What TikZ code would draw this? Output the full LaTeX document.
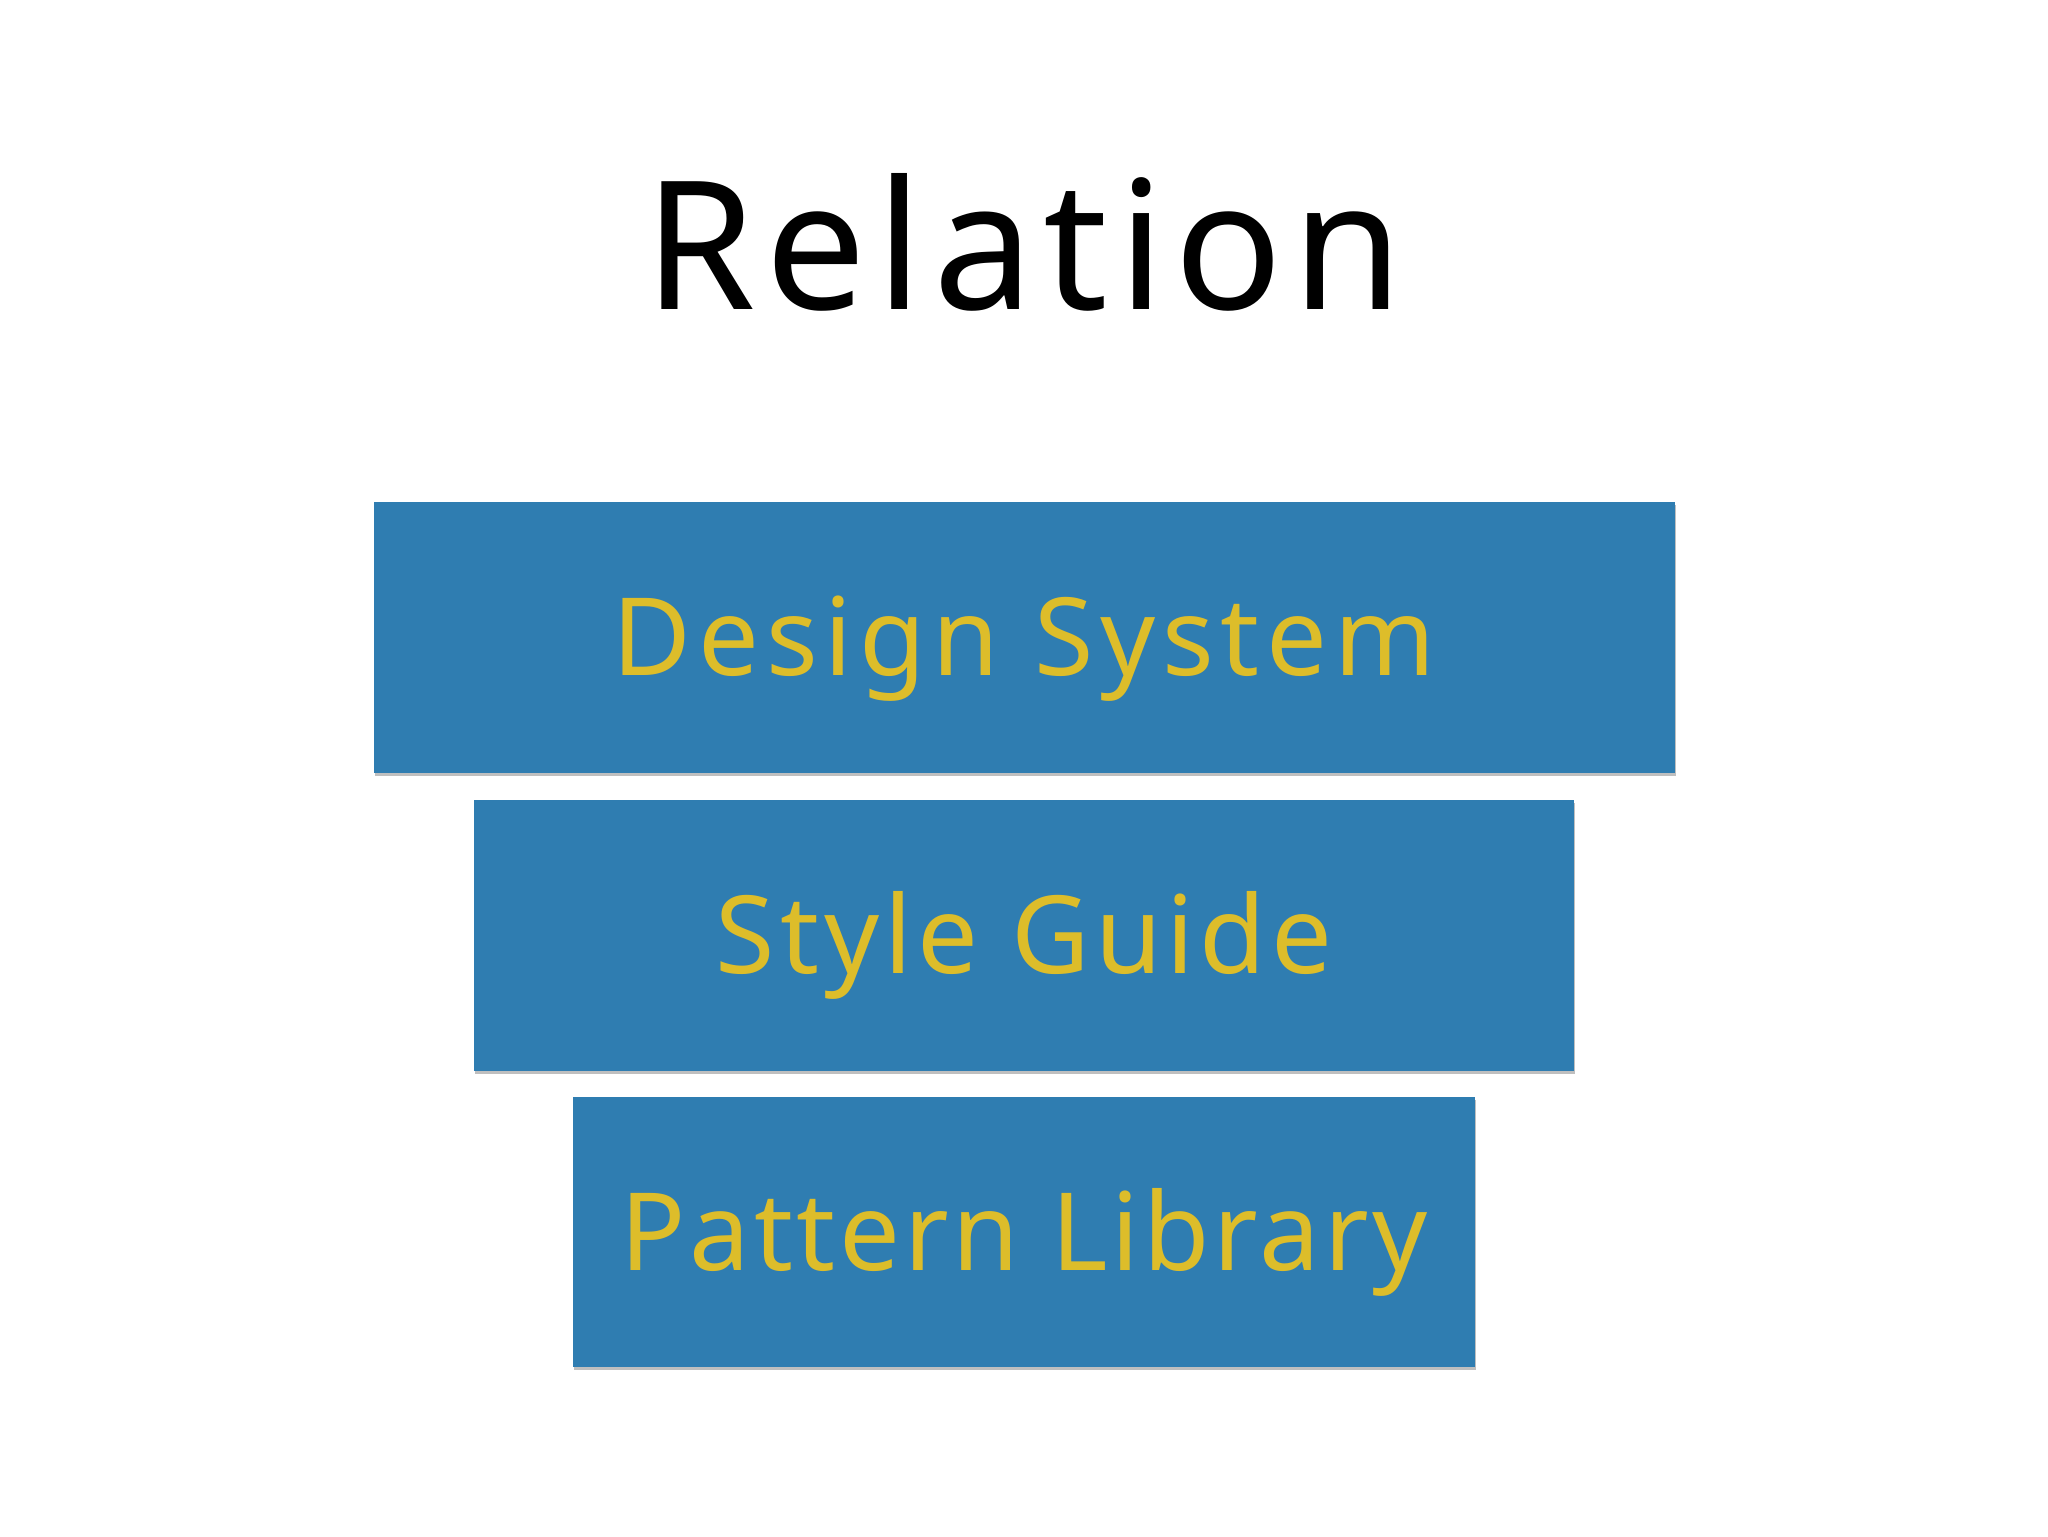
\documentclass[tikz,border=0pt]{standalone}
\usepackage{fontspec}
\setmainfont{Noto Sans}
\newfontfamily\titlefont[LetterSpace=5.6]{Noto Sans}
\newfontfamily\boxfontA[LetterSpace=6.3]{Noto Sans}
\newfontfamily\boxfontB[LetterSpace=4.7]{Noto Sans}
\newfontfamily\boxfontC[LetterSpace=3.5]{Noto Sans}
\usetikzlibrary{shadows}
\definecolor{boxblue}{HTML}{2F7DB1}
\definecolor{boxtext}{HTML}{DDBD2A}
\tikzset{
  layerbox/.style={rectangle, fill=boxblue, draw=none, inner sep=0pt,
    text=boxtext, font=#1\fontsize{54}{60}\selectfont,
    text height=38pt, text depth=-2pt,
    drop shadow={shadow xshift=0.6pt, shadow yshift=-1.6pt, opacity=0.25, fill=black}},
  titletext/.style={inner sep=0pt, text=black, font=\titlefont\fontsize{89.5}{100}\selectfont,
    text height=64pt, text depth=0pt}
}
\begin{document}
\begin{tikzpicture}[x=0.5pt,y=-0.5pt]
\useasboundingbox[fill=white] (0,0) rectangle (2048,1536);
\node[titletext] (title) at (1024,245.5) {Relation};
\node[layerbox=\boxfontA, minimum width=650.5pt, minimum height=135.5pt] (ds) at (1024,637.5) {Design System};
\node[layerbox=\boxfontB, minimum width=550pt, minimum height=135.5pt] (sg) at (1024,935.5) {Style Guide};
\node[layerbox=\boxfontC, minimum width=451pt, minimum height=135pt] (pl) at (1024,1232) {Pattern Library};
\end{tikzpicture}
\end{document}
